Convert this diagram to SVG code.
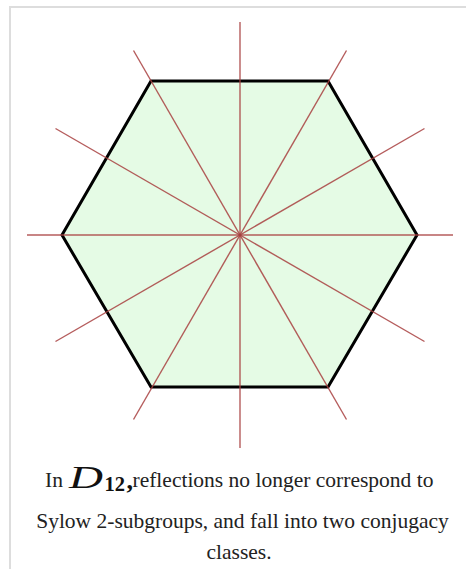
<svg xmlns="http://www.w3.org/2000/svg" width="466" height="569" viewBox="0 0 466 569">
<style>
.frame{fill:none;stroke:#dddddd;stroke-width:2}
.hex{fill:#e5fbe5;stroke:#000000;stroke-width:3;stroke-linejoin:miter}
.axis{stroke:#a8403f;stroke-width:1.4;stroke-opacity:0.85}
.cap{font-family:"Liberation Serif","Times New Roman",serif;font-size:21.5px;fill:#222222}
.math{font-family:"Liberation Serif","Times New Roman",serif;fill:#111111}
</style>
<rect class="frame" x="10" y="7" width="470" height="580"/>
<g id="hexagon">
<polygon class="hex" points="151,81 328,81 417,235 328,387 151,387 62,235"/>
</g>
<g id="connectors">
<line class="axis" x1="240" y1="22" x2="240" y2="448"/>
<line class="axis" x1="27" y1="235" x2="453" y2="235"/>
<line class="axis" x1="133.5" y1="50.5" x2="346.5" y2="419.5"/>
<line class="axis" x1="346.5" y1="50.5" x2="133.5" y2="419.5"/>
<line class="axis" x1="55.5" y1="128.5" x2="424.5" y2="341.5"/>
<line class="axis" x1="424.5" y1="128.5" x2="55.5" y2="341.5"/>
</g>
<g id="caption">
<text class="cap" x="45" y="487">In</text>
<text class="math" x="69" y="487.5" font-size="31" font-style="italic" textLength="34" lengthAdjust="spacingAndGlyphs">D</text>
<text class="math" x="104.5" y="491" font-size="20.5" font-weight="bold">12</text>
<text class="math" x="126.5" y="489" font-size="26" font-weight="bold">,</text>
<text class="cap" x="132.5" y="487">reflections no longer correspond to</text>
<text class="cap" x="242.5" y="528" text-anchor="middle">Sylow 2-subgroups, and fall into two conjugacy</text>
<text class="cap" x="239" y="559" text-anchor="middle">classes.</text>
</g>
</svg>
